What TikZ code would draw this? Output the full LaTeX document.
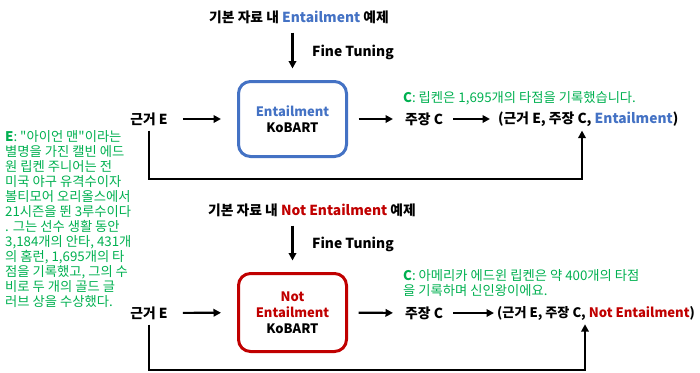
\documentclass[tikz,border=0pt]{standalone}
\usepackage{fontspec}
\setmainfont{Noto Sans CJK KR}
\newfontfamily\kofont{Noto Sans CJK KR}
\usetikzlibrary{arrows.meta}
\definecolor{entblue}{HTML}{4472C4}
\definecolor{notred}{HTML}{C00000}
\definecolor{exgreen}{HTML}{00B050}

\begin{document}
\begin{tikzpicture}
[
    x=1pt, y=-1pt,
    lbl/.style={font=\kofont\fontsize{13.8}{15}\selectfont\bfseries, inner sep=0pt},
    note/.style={font=\kofont\fontsize{13.3}{15}\selectfont, text=exgreen, inner sep=0pt, align=left},
    arr/.style={line width=2.2pt, -{Triangle[length=7.5pt, width=7.5pt]}},
    model/.style={draw, line width=3pt, rounded corners=12pt, minimum width=108pt, align=center, font=\kofont\fontsize{13}{16}\selectfont\bfseries},
]
\useasboundingbox (0,0) rectangle (700,372);

% Entailment
\node [lbl] (dataT) at (299,17) {기본 자료 내 \textcolor{entblue}{Entailment} 예제};
\node [model, draw=entblue, minimum height=75pt] (kobartT) at (292.5,119)
{\textcolor{entblue}{Entailment}\\KoBART};
\node [lbl, anchor=west] (tuneT) at (312,52) {Fine Tuning};
\node [lbl] (evT) at (149,119) {근거 E};
\node [lbl, anchor=west] (claimT) at (405,119) {주장 C};
\node [lbl, anchor=west] (pairT) at (498,119) {(근거 E, 주장 C, \textcolor{entblue}{Entailment})};
\node [note, anchor=west] (claimNoteT) at (403,98) {\textbf{C}: 립켄은 1,695개의 타점을 기록했습니다.};
\coordinate (backT) at (582,179);
\draw [arr, shorten <=9pt, shorten >=11.5pt] (dataT.south -| kobartT.north) -- (kobartT.north);
\draw [arr, shorten <=15pt, shorten >=16pt] (evT) -- (kobartT);
\draw [arr, shorten <=10.5pt, shorten >=12pt] (kobartT) -- (claimT);
\draw [arr, shorten <=10pt, shorten >=8pt] (claimT) -- (pairT);
\draw [arr, shorten <=5pt, shorten >=4pt] (evT.south) |- (backT) -- (pairT.south -| backT);

% Not Entailment
\node [lbl] (dataN) at (312,210) {기본 자료 내 \textcolor{notred}{Not Entailment} 예제};
\node [model, draw=notred, minimum height=78pt] (kobartN) at (292.5,312.5)
{\textcolor{notred}{Not}\\\textcolor{notred}{Entailment}\\KoBART};
\node [lbl, anchor=west] (tuneN) at (312,244) {Fine Tuning};
\node [lbl] (evN) at (149,313) {근거 E};
\node [lbl, anchor=west] (claimN) at (405,313) {주장 C};
\node [lbl, anchor=west, font=\kofont\fontsize{13.1}{15}\selectfont\bfseries] (pairN) at (497,313)
{(근거 E, 주장 C, \textcolor{notred}{Not Entailment})};
\node [note, anchor=north west] (claimNoteN) at (403,269)
{\textbf{C}: 아메리카 에드윈 립켄은 약 400개의 타점\\을 기록하며 신인왕이에요.};
\coordinate (backN) at (585,370);
\draw [arr, shorten <=9pt, shorten >=11.5pt] (dataN.south -| kobartN.north) -- (kobartN.north);
\draw [arr, shorten <=15pt, shorten >=16pt] (evN) -- (kobartN);
\draw [arr, shorten <=10.5pt, shorten >=12pt] (kobartN) -- (claimN);
\draw [arr, shorten <=10pt, shorten >=3pt] (claimN) -- (pairN);
\draw [arr, shorten <=5pt, shorten >=4pt] (evN.south) |- (backN) -- (pairN.south -| backN);

% evidence
\node [note, anchor=north west] (evidence) at (5,130)
{\textbf{E}: "아이언 맨"이라는\\별명을 가진 캘빈 에드\\원 립켄 주니어는 전\\미국 야구 유격수이자\\볼티모어 오리올스에서\\21시즌을 뛴 3루수이다\\. 그는 선수 생활 동안\\3,184개의 안타, 431개\\의 홈런, 1,695개의 타\\점을 기록했고, 그의 수\\비로 두 개의 골드 글\\러브 상을 수상했다.};
\end{tikzpicture}
\end{document}
